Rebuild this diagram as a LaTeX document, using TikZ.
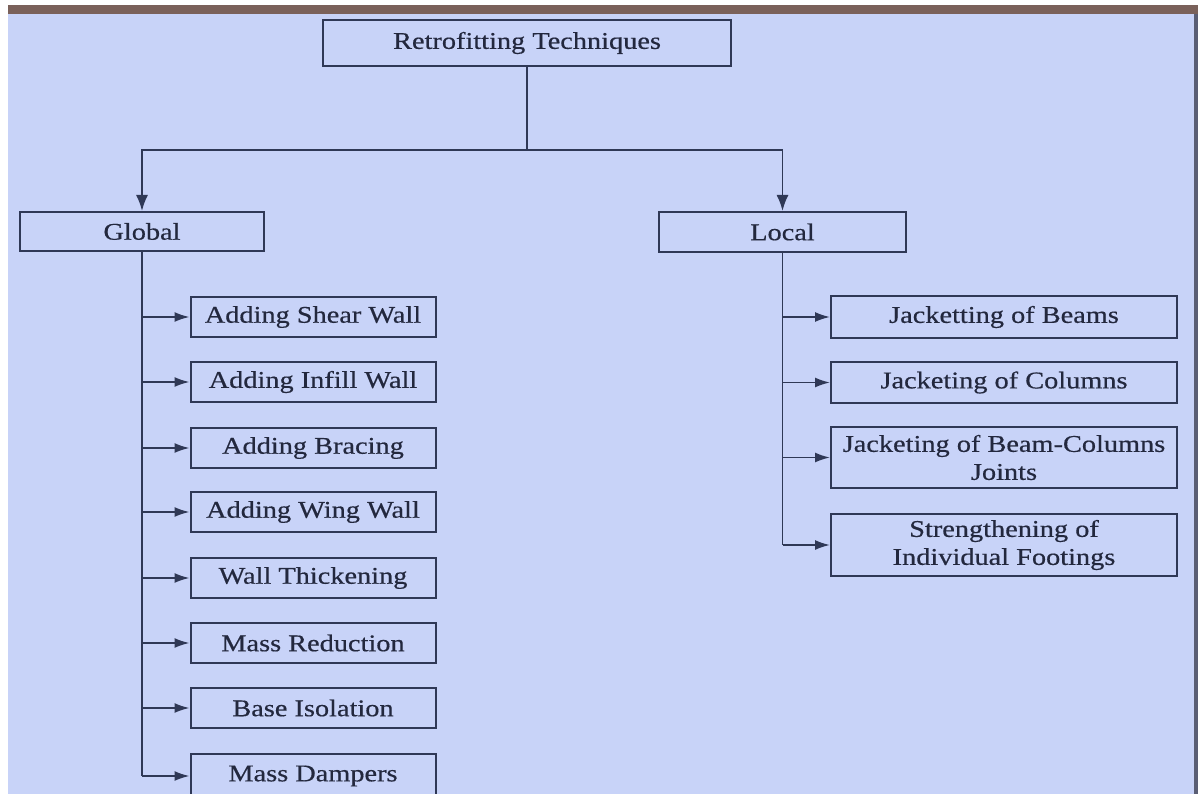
\documentclass[tikz,border=0pt]{standalone}
\usepackage{fontspec}
\setmainfont{Liberation Serif}[FakeStretch=1.18,FakeBold=0.5]
\usetikzlibrary{arrows.meta}
\definecolor{bg}{HTML}{C8D3F8}
\definecolor{ink}{HTML}{23283E}
\definecolor{edge}{HTML}{2F3856}
\definecolor{topbar}{HTML}{7A615A}
\definecolor{sidebar}{HTML}{5A5E74}
\begin{document}
\begin{tikzpicture}[x=1pt,y=-1pt,
  box/.style={draw=edge, line width=2pt, fill=bg, text=ink,
    font=\fontsize{24}{28}\selectfont, inner sep=0pt, align=center},
  conn/.style={draw=edge, line width=1.8pt},
  arr/.style={conn, -{Latex[length=15pt,width=10pt]}},
  darr/.style={conn, -{Latex[length=16pt,width=12pt]}}]
\useasboundingbox (0,0) rectangle (1198,794);
\fill[white] (0,0) rectangle (1198,794);
\fill[bg] (8,14) rectangle (1194,794);
\fill[topbar] (8,5) rectangle (1198,14);
\fill[sidebar] (1194,14) rectangle (1198,794);

\node[box, minimum width=408pt, minimum height=46pt] (root) at (527,43) {Retrofitting Techniques};
\node[box, minimum width=244pt, minimum height=39pt] (global) at (142,231.5) {Global};
\node[box, minimum width=247pt, minimum height=40pt] (local) at (782.5,232) {Local};

\tikzset{lbox/.style={box, minimum width=245pt, minimum height=40pt}}
\node[lbox] (g1) at (313,317) {Adding Shear Wall};
\node[lbox] (g2) at (313,382) {Adding Infill Wall};
\node[lbox] (g3) at (313,448) {Adding Bracing};
\node[lbox] (g4) at (313,512) {Adding Wing Wall};
\node[lbox] (g5) at (313,578) {Wall Thickening};
\node[lbox] (g6) at (313,643) {Mass Reduction};
\node[lbox] (g7) at (313,708) {Base Isolation};
\node[lbox, minimum height=44pt] (g8) at (313,776) {Mass Dampers};

\tikzset{rbox/.style={box, minimum width=346pt}}
\node[rbox, minimum height=42pt] (l1) at (1004,317) {Jacketting of Beams};
\node[rbox, minimum height=41pt] (l2) at (1004,382.5) {Jacketing of Columns};
\node[rbox, minimum height=61pt] (l3) at (1004,457.5) {Jacketing of Beam-Columns\\Joints};
\node[rbox, minimum height=62pt] (l4) at (1004,545) {Strengthening of\\Individual Footings};

\coordinate (hub) at (527,150);
\draw[conn] (root.south) -- (hub);
\draw[darr] (hub) -| (global.north);
\draw[darr] (hub) -| (local.north);

\draw[conn] (global.south) -- (global.south |- g8.west);
\foreach \n in {g1,g2,g3,g4,g5,g6,g7,g8}
  \draw[arr] (global.south |- \n.west) -- (\n.west);

\draw[conn] (local.south) -- (local.south |- l4.west);
\foreach \n in {l1,l2,l3,l4}
  \draw[arr] (local.south |- \n.west) -- (\n.west);
\end{tikzpicture}
\end{document}
